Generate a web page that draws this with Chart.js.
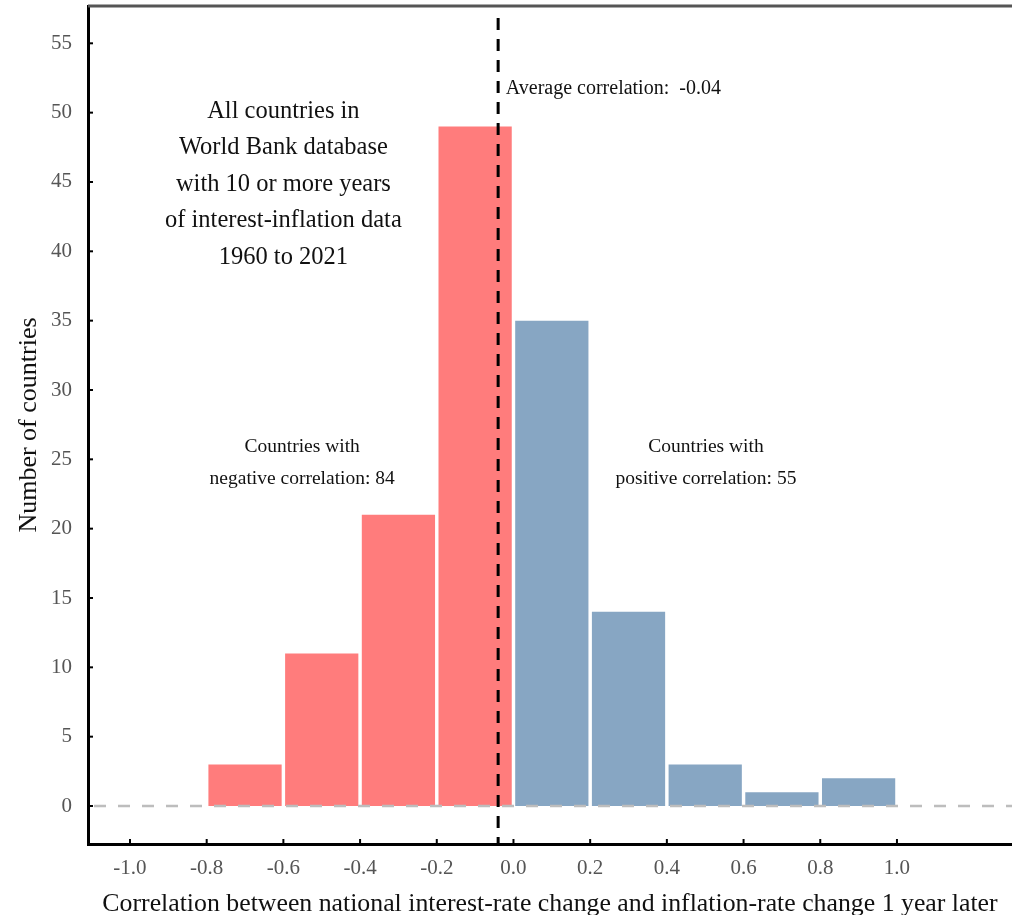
<!DOCTYPE html>
<html>
<head>
<meta charset="utf-8">
<script src="https://cdn.jsdelivr.net/npm/chart.js@4/dist/chart.umd.min.js"></script>
<style>
  html, body { margin: 0; padding: 0; background: #fff; }
  #wrap { width: 1012px; height: 915px; position: relative; }
</style>
</head>
<body>
<div id="wrap"><canvas id="c"></canvas></div>
<script>
// ---- data ----
const binStarts = [-0.8, -0.6, -0.4, -0.2, 0.0, 0.2, 0.4, 0.6, 0.8];
const binWidth = 0.2;
const counts = [3, 11, 21, 49, 35, 14, 3, 1, 2];
const xTickValues = [-1.0, -0.8, -0.6, -0.4, -0.2, 0.0, 0.2, 0.4, 0.6, 0.8, 1.0];
const yTickValues = [0, 5, 10, 15, 20, 25, 30, 35, 40, 45, 50, 55];
const averageCorrelation = -0.04;
const negativeCount = 84;
const positiveCount = 55;
const boxLines = ["All countries in", "World Bank database", "with 10 or more years", "of interest-inflation data", "1960 to 2021"];

// ---- styles ----
const RED = '#FF7C7C';
const BLUE = '#87A6C3';
const SERIF = '"Liberation Serif", "Times New Roman", serif';

const barData = binStarts.map((s, i) => ({ x: s + binWidth / 2, y: counts[i] }));
const barColors = binStarts.map(s => s < 0 ? RED : BLUE);

const overlay = {
  id: 'overlay',
  afterDatasetsDraw(chart) {
    const { ctx, chartArea, scales: { x, y } } = chart;
    ctx.save();
    // horizontal dashed zero line
    ctx.strokeStyle = '#bdbdbd';
    ctx.lineWidth = 2.5;
    ctx.setLineDash([12, 12]);
    const y0 = y.getPixelForValue(0);
    ctx.beginPath();
    ctx.moveTo(chartArea.left + 6, y0);
    ctx.lineTo(chartArea.right, y0);
    ctx.stroke();
    // vertical average line
    ctx.strokeStyle = '#000';
    ctx.lineWidth = 3;
    ctx.setLineDash([12, 9]);
    const xa = x.getPixelForValue(averageCorrelation);
    ctx.beginPath();
    ctx.moveTo(xa, chartArea.top + 12);
    ctx.lineTo(xa, chartArea.bottom);
    ctx.stroke();
    ctx.setLineDash([]);
    // top frame line
    ctx.strokeStyle = '#555';
    ctx.lineWidth = 3;
    ctx.beginPath();
    ctx.moveTo(chartArea.left, chartArea.top);
    ctx.lineTo(chartArea.right, chartArea.top);
    ctx.stroke();
    // inward tick marks
    ctx.strokeStyle = '#000';
    ctx.lineWidth = 2;
    yTickValues.forEach(v => {
      const py = y.getPixelForValue(v);
      ctx.beginPath(); ctx.moveTo(chartArea.left, py); ctx.lineTo(chartArea.left + 5, py); ctx.stroke();
    });
    xTickValues.forEach(v => {
      const px = x.getPixelForValue(v);
      ctx.beginPath(); ctx.moveTo(px, chartArea.bottom); ctx.lineTo(px, chartArea.bottom - 5); ctx.stroke();
    });
    // texts
    ctx.fillStyle = '#111';
    ctx.textBaseline = 'middle';
    ctx.textAlign = 'center';
    ctx.font = '24.5px ' + SERIF;
    const bx = x.getPixelForValue(-0.60);
    const by = y.getPixelForValue(50.08);
    boxLines.forEach((t, i) => ctx.fillText(t, bx, by + i * 36.5));
    ctx.font = '19.5px ' + SERIF;
    const nx = x.getPixelForValue(-0.551), ny = y.getPixelForValue(25.88);
    ctx.fillText('Countries with', nx, ny);
    ctx.fillText('negative correlation: ' + negativeCount, nx, ny + 32);
    const qx = x.getPixelForValue(0.502);
    ctx.fillText('Countries with', qx, ny);
    ctx.fillText('positive correlation: ' + positiveCount, qx, ny + 32);
    ctx.textAlign = 'left';
    ctx.font = '20px ' + SERIF;
    ctx.fillText('Average correlation:  ' + averageCorrelation.toFixed(2), x.getPixelForValue(-0.02), y.getPixelForValue(51.74));
    ctx.restore();
  }
};

new Chart(document.getElementById('c'), {
  type: 'bar',
  data: {
    datasets: [{
      data: barData,
      backgroundColor: barColors,
      borderWidth: 0,
      barPercentage: 0.955,
      categoryPercentage: 1.0
    }]
  },
  options: {
    responsive: true,
    maintainAspectRatio: false,
    animation: false,
    layout: { padding: { top: 6, left: 0, right: 0, bottom: 0 } },
    plugins: { legend: { display: false }, tooltip: { enabled: false } },
    scales: {
      x: {
        type: 'linear',
        offset: false,
        min: -1.1095,
        max: 1.30,
        afterBuildTicks(scale) { scale.ticks = xTickValues.map(v => ({ value: v })); },
        afterFit(scale) { scale.height = 71; scale.paddingLeft = 0; scale.paddingRight = 0; scale.paddingTop = 0; scale.paddingBottom = 0; },
        ticks: {
          autoSkip: false, maxRotation: 0, padding: 12,
          color: '#555', font: { family: SERIF, size: 21 },
          callback: v => Number(v).toFixed(1)
        },
        grid: { display: false, drawTicks: false },
        border: { display: true, color: '#000', width: 3 },
        title: {
          display: true,
          text: 'Correlation between national interest-rate change and inflation-rate change 1 year later',
          color: '#111', font: { family: SERIF, size: 25.8 }, padding: { top: 0, bottom: -4.5 }
        }
      },
      y: {
        min: -2.74,
        max: 57.69,
        afterBuildTicks(scale) { scale.ticks = yTickValues.map(v => ({ value: v })); },
        afterFit(scale) { scale.width = 88; scale.paddingLeft = 0; scale.paddingRight = 0; scale.paddingTop = 0; scale.paddingBottom = 0; },
        ticks: {
          autoSkip: false, padding: 16,
          color: '#555', font: { family: SERIF, size: 21 },
          callback: v => String(v)
        },
        grid: { display: false, drawTicks: false },
        border: { display: true, color: '#000', width: 3 },
        title: {
          display: true, text: 'Number of countries',
          color: '#111', font: { family: SERIF, size: 26 }, padding: { top: 14, bottom: 0 }
        }
      }
    }
  },
  plugins: [overlay]
});
</script>
</body>
</html>
